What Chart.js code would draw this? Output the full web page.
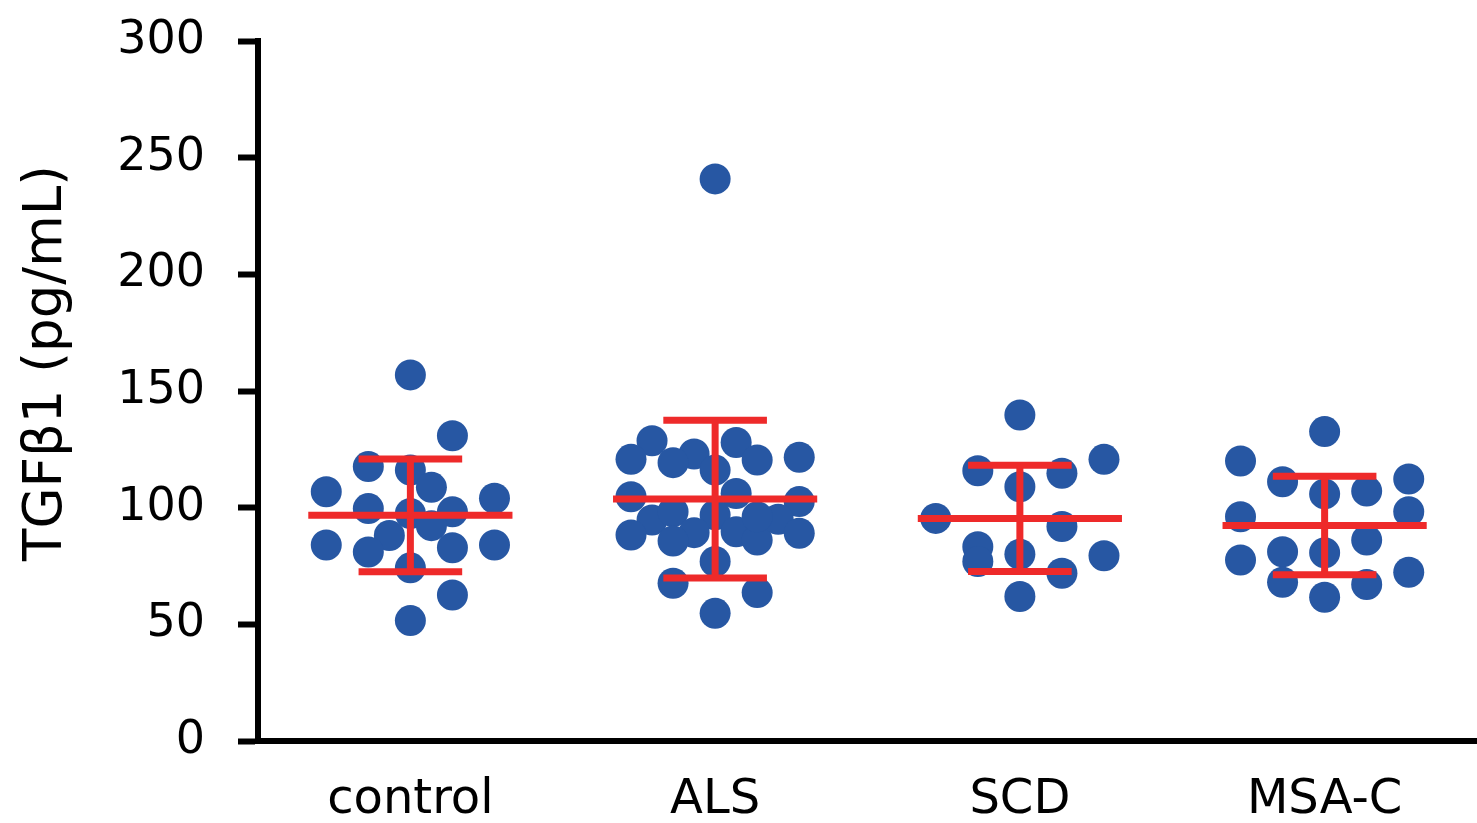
<!DOCTYPE html>
<html>
<head>
<meta charset="utf-8">
<title>TGFβ1</title>
<script src="https://cdn.jsdelivr.net/npm/chart.js@4.4.1/dist/chart.umd.min.js"></script>
<style>
  html, body { margin: 0; padding: 0; background: #fff; overflow: hidden; }
  #wrap { width: 1477px; height: 823px; position: relative; }
  canvas { display: block; }
</style>
</head>
<body>
<div id="wrap"><canvas id="chartOne"></canvas></div>
<script>
// grupos y valores
const groups = ['control', 'ALS', 'SCD', 'MSA-C'];

const controlValues = [156.9, 130.8, 117.6, 116.1, 108.7, 106.8, 104.0, 99.6, 97.5, 98.2, 92.3, 88.1, 84.0, 84.0, 82.8, 81.0, 74.2, 62.6, 51.6];
const controlSlots  = [0, 2, -2, 0, 1, -4, 4, -2, 0, 2, 1, -1, -4, 4, 2, -2, 0, 2, 0];

const alsValues = [240.9, 128.7, 127.9, 120.7, 123.0, 119.3, 120.4, 121.6, 116.1, 104.7, 106.1, 102.6, 94.7, 98.3, 96.9, 89.3, 88.3, 85.7, 89.7, 86.1, 95.0, 96.1, 89.0, 76.9, 67.6, 63.6, 54.7];
const alsSlots  = [0, -3, 1, -4, -1, -2, 2, 4, 0, -4, 1, 4, -3, -2, 0, -1, -4, -2, 1, 2, 3, 2, 4, 0, -2, 2, 0];

const scdValues = [139.7, 120.7, 115.8, 114.7, 109.0, 95.4, 91.9, 83.3, 76.9, 80.0, 79.4, 71.9, 61.9];
const scdSlots  = [0, 4, -2, 2, 0, -4, 2, -2, -2, 0, 4, 2, 0];

const msaValues = [132.6, 120.0, 111.1, 112.3, 105.9, 107.1, 96.1, 98.3, 86.1, 77.6, 81.1, 80.7, 72.3, 68.0, 67.1, 61.6];
const msaSlots  = [0, -4, -2, 4, 0, 2, -4, 4, 2, -4, -2, 0, 4, -2, 2, 0];

const groupMeans = [96.7, 103.7, 95.4, 92.4];
const groupSDs = [24.2, 33.8, 22.8, 21.1];

const yTitle = 'TGFβ1 (pg/mL)';

const allValues = [controlValues, alsValues, scdValues, msaValues];
const allSlots = [controlSlots, alsSlots, scdSlots, msaSlots];

// estilo
const slotWidth = 0.069;
const meanHalf = 0.335;
const capHalf = 0.17;
const blue = '#2757A3';
const red = '#EE2A2A';
const fontName = "'DejaVu Sans', sans-serif";

const points = [];
allValues.forEach((vals, i) => {
    vals.forEach((v, j) => {
        points.push({ x: i + allSlots[i][j] * slotWidth, y: v });
    });
});

// barras de media +- SD
const meanBars = {
    id: 'meanBars',
    afterDatasetsDraw(chart) {
        const ctx = chart.ctx;
        const xs = chart.scales.x;
        const ys = chart.scales.y;
        ctx.save();
        ctx.strokeStyle = red;
        ctx.lineWidth = 7;
        ctx.lineCap = 'butt';
        groups.forEach((g, i) => {
            const m = ys.getPixelForValue(groupMeans[i]);
            const hi = ys.getPixelForValue(groupMeans[i] + groupSDs[i]);
            const lo = ys.getPixelForValue(groupMeans[i] - groupSDs[i]);
            const cx = xs.getPixelForValue(i);
            ctx.beginPath();
            ctx.moveTo(xs.getPixelForValue(i - meanHalf), m);
            ctx.lineTo(xs.getPixelForValue(i + meanHalf), m);
            ctx.moveTo(cx, hi);
            ctx.lineTo(cx, lo);
            ctx.moveTo(xs.getPixelForValue(i - capHalf), hi);
            ctx.lineTo(xs.getPixelForValue(i + capHalf), hi);
            ctx.moveTo(xs.getPixelForValue(i - capHalf), lo);
            ctx.lineTo(xs.getPixelForValue(i + capHalf), lo);
            ctx.stroke();
        });
        ctx.restore();
    }
};

// titulo del eje y
const yAxisTitle = {
    id: 'yAxisTitle',
    afterDraw(chart) {
        const ctx = chart.ctx;
        const area = chart.chartArea;
        ctx.save();
        ctx.translate(47, area.top + (area.bottom - area.top) * 0.46);
        ctx.rotate(-Math.PI / 2);
        ctx.font = "53px " + fontName;
        ctx.fillStyle = '#000';
        ctx.textAlign = 'center';
        ctx.textBaseline = 'middle';
        ctx.fillText(yTitle, 0, 0);
        ctx.restore();
    }
};

const ctxOne = document.getElementById('chartOne').getContext('2d');
const chartOne = new Chart(ctxOne, {
    type: 'scatter',
    data: {
        datasets: [{
            label: 'TGFβ1',
            data: points,
            backgroundColor: blue,
            borderWidth: 0,
            pointRadius: 15.5,
            pointHoverRadius: 15.5,
            clip: false
        }]
    },
    options: {
        responsive: true,
        maintainAspectRatio: false,
        animation: false,
        layout: { autoPadding: false, padding: { top: 41, left: 0, right: 0, bottom: 0 } },
        plugins: {
            legend: { display: false },
            tooltip: { enabled: false }
        },
        scales: {
            x: {
                type: 'linear',
                min: -0.5,
                max: 3.5,
                afterBuildTicks: (scale) => {
                    scale.ticks = groups.map((g, i) => ({ value: i }));
                },
                afterFit: (scale) => {
                    scale.height = 82;
                    scale.paddingLeft = 0;
                    scale.paddingRight = 0;
                },
                grid: { display: false, drawTicks: false },
                border: { display: true, color: '#000', width: 6 },
                ticks: {
                    color: '#000',
                    padding: 31,
                    autoSkip: false,
                    maxRotation: 0,
                    font: { family: fontName, size: 48 },
                    callback: (v) => groups[v]
                }
            },
            y: {
                min: 0,
                max: 300,
                afterFit: (scale) => {
                    scale.width = 258;
                    scale.paddingTop = 0;
                    scale.paddingBottom = 0;
                },
                grid: {
                    drawOnChartArea: false,
                    tickLength: 20,
                    tickWidth: 6,
                    tickColor: '#000'
                },
                border: { display: true, color: '#000', width: 6 },
                ticks: {
                    stepSize: 50,
                    color: '#000',
                    padding: 33,
                    font: { family: fontName, size: 46 }
                }
            }
        }
    },
    plugins: [meanBars, yAxisTitle]
});
</script>
</body>
</html>
